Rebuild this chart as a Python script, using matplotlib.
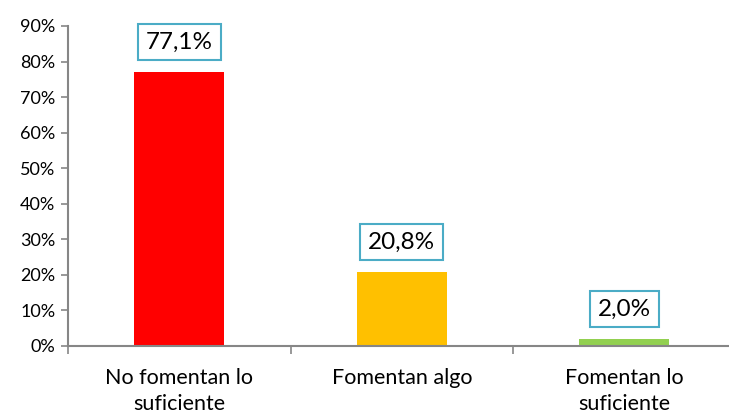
import matplotlib.pyplot as plt
from matplotlib.ticker import FuncFormatter

categories = ["No fomentan lo\nsuficiente", "Fomentan algo", "Fomentan lo\nsuficiente"]
values = [77.1, 20.8, 2.0]
labels = ["77,1%", "20,8%", "2,0%"]
colors = ["#FF0000", "#FFC000", "#92D050"]

plt.rcParams['font.family'] = ['Lato', 'DejaVu Sans']
axis_gray = "#868686"

fig = plt.figure(figsize=(7.29, 4.17), dpi=100)
ax = fig.add_axes([68 / 729, 71 / 417, 667.5 / 729, 320 / 417])

x = range(len(categories))
ax.bar(x, values, width=0.405, color=colors)

for xi, v, lab in zip(x, values, labels):
    ax.annotate(lab, (xi, v), xytext=(0, 21.6), textcoords='offset points',
                ha='center', va='center', fontsize=17.5, color='black',
                bbox=dict(boxstyle='square,pad=0.32', fc='white',
                          ec='#4BACC6', lw=1.5))

ax.set_xlim(-0.5, 2.5)
ax.set_ylim(0, 90)
ax.set_yticks(range(0, 91, 10))
ax.yaxis.set_major_formatter(FuncFormatter(lambda v, p: f"{v:.0f}%"))

ax.set_xticks([-0.5, 0.5, 1.5, 2.5])
ax.set_xticklabels([])
ax.set_xticks(list(x), minor=True)
ax.set_xticklabels(categories, minor=True, fontsize=15.5, linespacing=1.35)
ax.tick_params(axis='x', which='minor', length=0, pad=16)
ax.tick_params(axis='x', which='major', length=6, width=1.2, color=axis_gray)
ax.tick_params(axis='y', length=5, width=1.2, color=axis_gray, labelsize=13, pad=4)

for s in ['top', 'right']:
    ax.spines[s].set_visible(False)
for s in ['left', 'bottom']:
    ax.spines[s].set_color(axis_gray)
    ax.spines[s].set_linewidth(1.5)

fig.savefig("out.png", dpi=100)
